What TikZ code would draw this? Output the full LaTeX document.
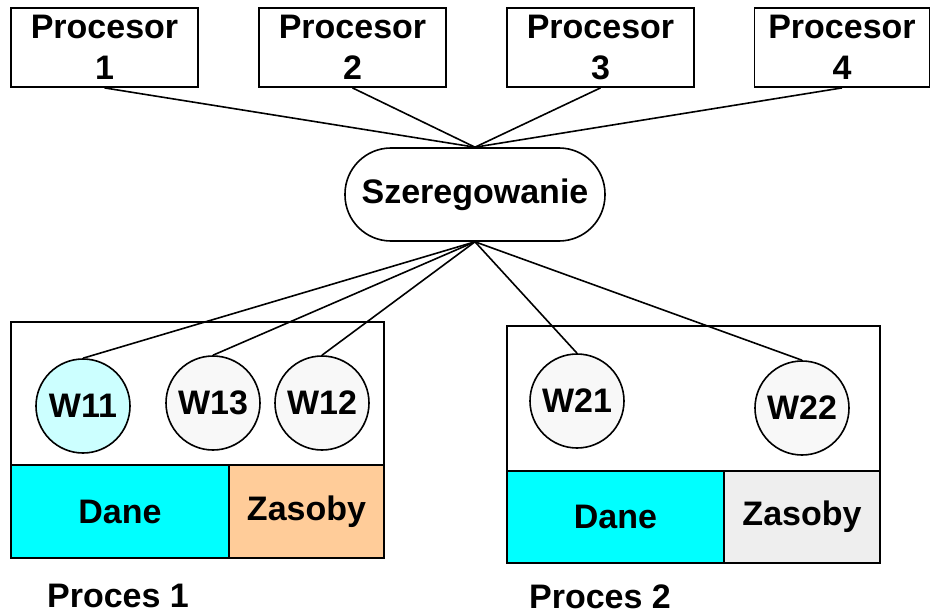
\documentclass[tikz,border=0pt]{standalone}
\usepackage{fontspec}
\setmainfont{Liberation Sans}
\definecolor{lcyan}{HTML}{CCFFFF}
\definecolor{wgray}{HTML}{F8F8F8}
\definecolor{dcyan}{HTML}{00FFFF}
\definecolor{zorange}{HTML}{FFCC99}
\definecolor{zgray}{HTML}{EEEEEE}
\begin{document}
\begin{tikzpicture}[x=1pt,y=-1pt,
  every node/.style={font=\bfseries\fontsize{34}{41}\selectfont, inner sep=0pt},
  procbox/.style={draw, line width=1.8pt, minimum width=187pt, minimum height=79pt, align=center},
  wnode/.style={draw, circle, line width=1.6pt, minimum size=94pt, fill=wgray},
  part/.style={draw, line width=2pt},
  conn/.style={line width=1.6pt}]
\useasboundingbox (0,0) rectangle (930,615);
% processors
\node[procbox] (p1) at (104.5,47.5) {Procesor\\1};
\node[procbox] (p2) at (352.5,47.5) {Procesor\\2};
\node[procbox] (p3) at (600.5,47.5) {Procesor\\3};
\node[procbox, minimum width=175pt] (p4) at (842,47.5) {Procesor\\4};
% scheduler
\node[draw, line width=1.6pt, rounded corners=46pt, minimum width=260pt, minimum height=93pt] (sz) at (475,194.5) {Szeregowanie};
% process 1
\node[part, minimum width=373pt, minimum height=143pt] (t1) at (197.5,393.5) {};
\node[part, fill=dcyan, minimum width=218pt, minimum height=93pt] (d1) at (120,511.5) {Dane};
\node[part, fill=zorange, minimum width=155pt, minimum height=93pt] (z1) at (306.5,511.5) {Zasoby};
\node[wnode, fill=lcyan] (w11) at (83,406) {W11};
\node[wnode] (w13) at (213,403) {W13};
\node[wnode] (w12) at (322,403) {W12};
\node (l1) at (118,596) {Proces 1};
% process 2
\node[part, minimum width=373pt, minimum height=145pt] (t2) at (693.5,398.5) {};
\node[part, fill=dcyan, minimum width=217pt, minimum height=92pt] (d2) at (615.5,517) {Dane};
\node[part, fill=zgray, minimum width=156pt, minimum height=92pt] (z2) at (802,517) {Zasoby};
\node[wnode] (w21) at (577,401) {W21};
\node[wnode] (w22) at (802,408) {W22};
\node (l2) at (600,597) {Proces 2};
% connectors
\foreach \p in {p1,p2,p3,p4} \draw[conn] (\p.south) -- (sz.north);
\foreach \w in {w11,w13,w12,w21,w22} \draw[conn] (sz.south) -- (\w.north);
\end{tikzpicture}
\end{document}
